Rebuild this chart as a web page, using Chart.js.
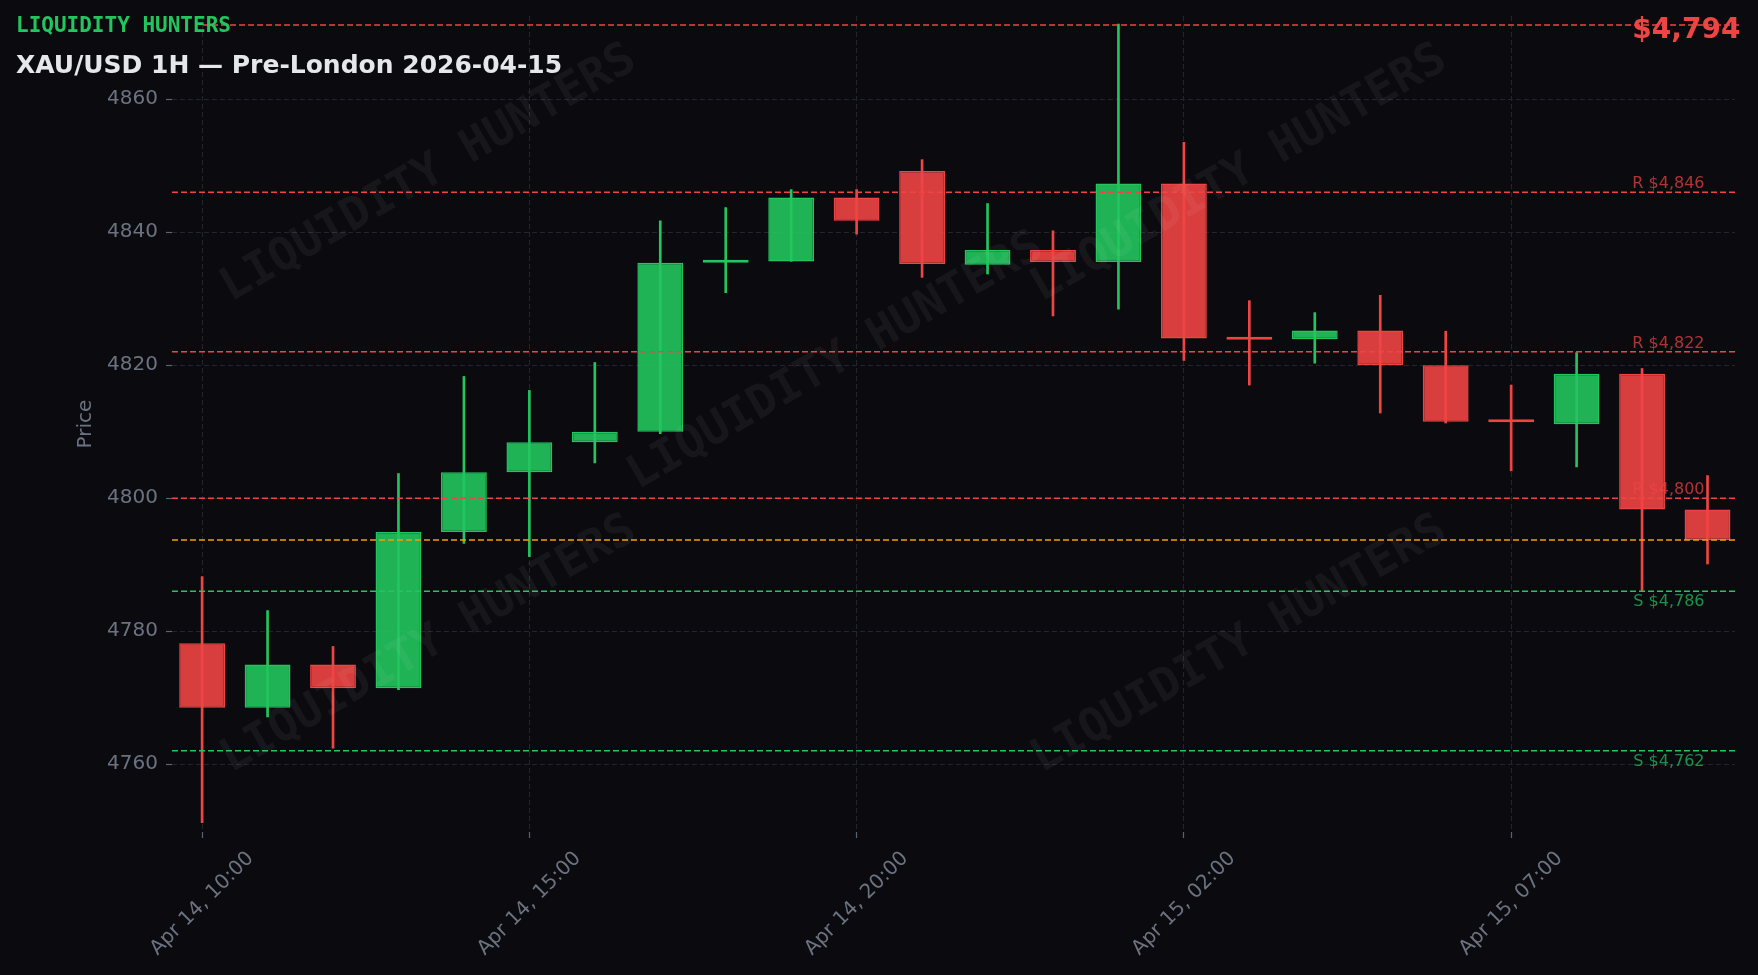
<!DOCTYPE html>
<html>
<head>
<meta charset="utf-8">
<script src="https://cdn.jsdelivr.net/npm/chart.js@4.4.1/dist/chart.umd.min.js"></script>
<style>
  html, body { margin: 0; padding: 0; background: #0b0b0f; }
  #caixa { width: 1758px; height: 975px; position: relative; }
</style>
</head>
<body>
<div id="caixa"><canvas id="grafico"></canvas></div>
<script>
// Dados das velas de 1H (XAU/USD)
const horas = [
    'Apr 14, 10:00', 'Apr 14, 11:00', 'Apr 14, 12:00', 'Apr 14, 13:00', 'Apr 14, 14:00',
    'Apr 14, 15:00', 'Apr 14, 16:00', 'Apr 14, 17:00', 'Apr 14, 18:00', 'Apr 14, 19:00',
    'Apr 14, 20:00', 'Apr 14, 22:00', 'Apr 14, 23:00', 'Apr 15, 00:00', 'Apr 15, 01:00',
    'Apr 15, 02:00', 'Apr 15, 03:00', 'Apr 15, 04:00', 'Apr 15, 05:00', 'Apr 15, 06:00',
    'Apr 15, 07:00', 'Apr 15, 08:00', 'Apr 15, 09:00', 'Apr 15, 10:00'
];
const abertura = [4778.2, 4768.5, 4775.0, 4771.4, 4794.9, 4803.9, 4808.4, 4810.0, 4835.4, 4835.6, 4845.2, 4849.2,
                  4835.1, 4837.3, 4835.5, 4847.3, 4824.0, 4823.9, 4825.2, 4820.0, 4811.6, 4811.1, 4818.7, 4798.3];
const fechamento = [4768.5, 4775.0, 4771.4, 4794.9, 4803.9, 4808.4, 4810.0, 4835.4, 4835.8, 4845.2, 4841.7, 4835.2,
                    4837.3, 4835.5, 4847.3, 4824.0, 4823.8, 4825.2, 4820.0, 4811.5, 4811.4, 4818.7, 4798.3, 4793.7];
const maxima = [4788.2, 4783.1, 4777.7, 4803.7, 4818.3, 4816.2, 4820.4, 4841.7, 4843.7, 4846.4, 4846.4, 4850.9,
                4844.3, 4840.2, 4871.3, 4853.5, 4829.7, 4827.9, 4830.5, 4825.1, 4817.0, 4821.9, 4819.5, 4803.4];
const minima = [4751.2, 4767.1, 4762.4, 4771.2, 4793.2, 4791.2, 4805.3, 4809.7, 4830.9, 4835.6, 4839.7, 4833.2,
                4833.7, 4827.4, 4828.4, 4820.7, 4817.0, 4820.3, 4812.8, 4811.3, 4804.1, 4804.7, 4786.1, 4790.1];

// Níveis de resistência / suporte e preço atual
const resistencias = [4846, 4822, 4800];
const suportes = [4786, 4762];
const precoAtual = 4793.7;

// Marcas dos eixos
const ticksPreco = [4760, 4780, 4800, 4820, 4840, 4860];
const ticksHora = [0, 5, 10, 15, 20];

const VERDE = '#22c55e';
const VERMELHO = '#ef4444';
const LARANJA = '#f59e0b';
const CINZA = '#6b7280';
const X_MIN = -0.46, X_MAX = 23.42;

const corVela = abertura.map((a, i) => fechamento[i] >= a ? VERDE : VERMELHO);
const corCorpo = abertura.map((a, i) => fechamento[i] >= a ? 'rgba(34,197,94,0.9)' : 'rgba(239,68,68,0.9)');

// Linha horizontal tracejada para um nível
function linhaNivel(valor, cor) {
    return {
        type: 'line',
        data: [{ x: X_MIN, y: valor }, { x: X_MAX, y: valor }],
        borderColor: cor,
        borderWidth: 1.5,
        borderDash: [6, 3],
        pointRadius: 0,
        order: -1
    };
}

const fmt = v => '$' + Math.round(v).toLocaleString('en-US');

// Plugin com fundo, marca d'água, rótulos e cabeçalho
const decoracao = {
    id: 'decoracao',
    beforeDraw(chart) {
        const c = chart.ctx;
        c.save();
        c.fillStyle = '#0b0b0f';
        c.fillRect(0, 0, chart.width, chart.height);
        c.restore();
    },
    afterDatasetsDraw(chart) {
        const c = chart.ctx;
        const pos = [[0.244, 0.1785], [0.4755, 0.371], [0.705, 0.1785], [0.244, 0.6615], [0.705, 0.6615]];
        c.save();
        c.font = 'bold 46px "DejaVu Sans Mono"';
        c.fillStyle = 'rgba(255,255,255,0.05)';
        c.textAlign = 'center';
        c.textBaseline = 'middle';
        pos.forEach(p => {
            c.save();
            c.translate(p[0] * chart.width, p[1] * chart.height);
            c.rotate(-Math.PI / 6);
            c.fillText('LIQUIDITY HUNTERS', 0, 0);
            c.restore();
        });
        c.restore();
    },
    afterDraw(chart) {
        const c = chart.ctx;
        const area = chart.chartArea;
        const ex = chart.scales.x, ey = chart.scales.y;

        // Rótulos do eixo X (45°, centrados na marca)
        c.save();
        c.font = '20px "DejaVu Sans"';
        c.fillStyle = CINZA;
        c.textAlign = 'center';
        c.textBaseline = 'middle';
        ticksHora.forEach(i => {
            const w = c.measureText(horas[i]).width;
            const meia = (w + 18) * Math.SQRT1_2 / 2;
            c.save();
            c.translate(ex.getPixelForValue(i), area.bottom + 17 + meia);
            c.rotate(-Math.PI / 4);
            c.fillText(horas[i], 0, 0);
            c.restore();
        });
        c.restore();

        // Rótulos dos níveis
        const xr = ex.getPixelForValue(abertura.length - 1) - 3;
        c.save();
        c.font = '16px "DejaVu Sans"';
        c.textAlign = 'right';
        c.textBaseline = 'alphabetic';
        c.fillStyle = 'rgba(239,68,68,0.72)';
        resistencias.forEach(r => c.fillText('R ' + fmt(r), xr, ey.getPixelForValue(r) - 4));
        c.fillStyle = 'rgba(34,197,94,0.72)';
        suportes.forEach(s => c.fillText('S ' + fmt(s), xr, ey.getPixelForValue(s) + 15));
        c.restore();

        // Cabeçalho
        c.save();
        c.strokeStyle = VERMELHO;
        c.lineWidth = 1.5;
        c.setLineDash([6, 3]);
        c.beginPath();
        c.moveTo(chart.width * 0.1155, 25);
        c.lineTo(chart.width * 0.99, 25);
        c.stroke();
        c.setLineDash([]);
        c.textBaseline = 'middle';
        c.textAlign = 'left';
        c.fillStyle = VERDE;
        c.font = 'bold 21px "DejaVu Sans Mono"';
        c.fillText('LIQUIDITY HUNTERS', 16, 27);
        c.fillStyle = '#e6e7eb';
        c.font = 'bold 25px "DejaVu Sans"';
        c.fillText('XAU/USD 1H — Pre-London 2026-04-15', 16, 66);
        c.textAlign = 'right';
        c.fillStyle = VERMELHO;
        c.font = 'bold 28px "DejaVu Sans"';
        c.fillText(fmt(precoAtual), chart.width * 0.99, 31);
        c.restore();
    }
};

const ctx = document.getElementById('grafico').getContext('2d');

const grafico = new Chart(ctx, {
    type: 'bar',
    data: {
        datasets: [
            // pavios (máxima-mínima)
            {
                data: horas.map((_, i) => ({ x: i, y: [minima[i], maxima[i]] })),
                backgroundColor: corVela,
                borderWidth: 0,
                barThickness: 2,
                grouped: false,
                order: 2
            },
            // corpos (abertura-fechamento)
            {
                data: horas.map((_, i) => ({ x: i, y: [abertura[i], fechamento[i]] })),
                backgroundColor: corCorpo,
                borderColor: corVela,
                borderWidth: 1.5,
                borderSkipped: false,
                minBarLength: 3,
                categoryPercentage: 0.7,
                barPercentage: 1,
                grouped: false,
                order: 1
            },
            ...resistencias.map(r => linhaNivel(r, VERMELHO)),
            linhaNivel(precoAtual, LARANJA),
            ...suportes.map(s => linhaNivel(s, VERDE))
        ]
    },
    options: {
        responsive: true,
        maintainAspectRatio: false,
        animation: false,
        layout: { padding: { top: 16, right: 23, left: 0, bottom: 0 } },
        plugins: { legend: { display: false }, tooltip: { enabled: false } },
        scales: {
            x: {
                type: 'linear',
                min: X_MIN,
                max: X_MAX,
                offset: false,
                afterBuildTicks: s => { s.ticks = ticksHora.map(v => ({ value: v })); },
                afterFit: s => { s.height = 143; },
                ticks: { display: false },
                grid: {
                    offset: false,
                    color: '#23252d',
                    lineWidth: 1,
                    drawTicks: true,
                    tickLength: 6,
                    tickColor: '#5c6270',
                    tickWidth: 1.2
                },
                border: { display: false, dash: [5, 3] }
            },
            y: {
                min: 4749.8,
                max: 4872.5,
                afterBuildTicks: s => { s.ticks = ticksPreco.map(v => ({ value: v })); },
                afterFit: s => { s.width = 172; s.paddingTop = 0; s.paddingBottom = 0; },
                ticks: {
                    color: CINZA,
                    font: { family: "'DejaVu Sans', sans-serif", size: 20 },
                    padding: 8,
                    callback: v => String(v)
                },
                grid: {
                    color: '#23252d',
                    lineWidth: 1,
                    drawTicks: true,
                    tickLength: 6,
                    tickColor: '#5c6270',
                    tickWidth: 1.2
                },
                border: { display: false, dash: [5, 3] },
                title: {
                    display: true,
                    text: 'Price',
                    color: CINZA,
                    font: { family: "'DejaVu Sans', sans-serif", size: 20 },
                    padding: { top: 74, bottom: 0 }
                }
            }
        }
    },
    plugins: [decoracao]
});
</script>
</body>
</html>
